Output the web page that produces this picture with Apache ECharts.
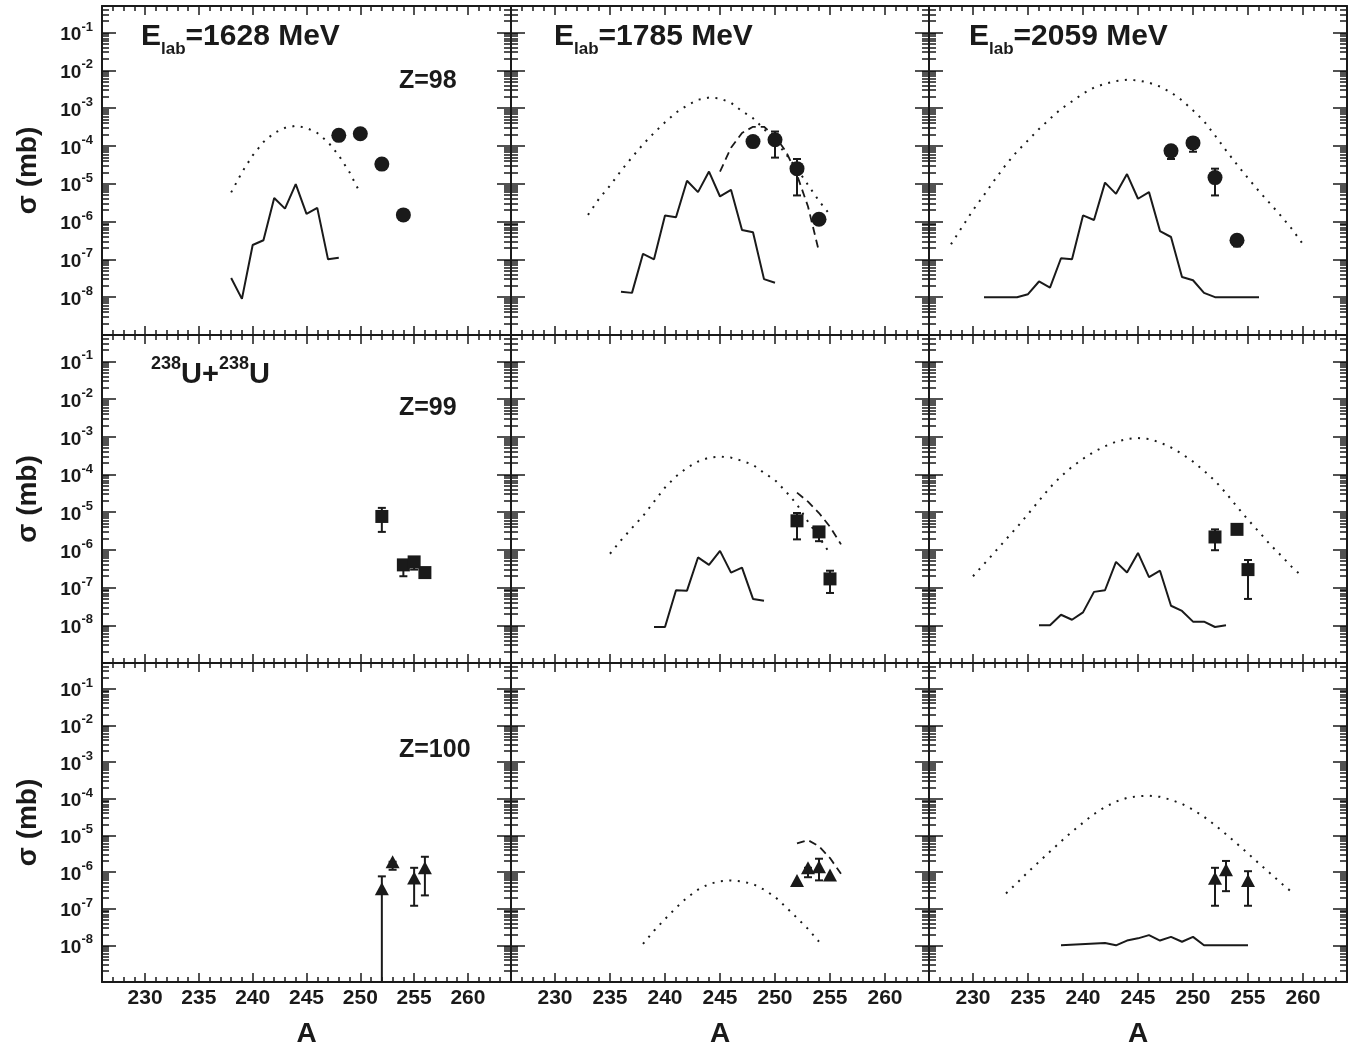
<!DOCTYPE html>
<html><head><meta charset="utf-8">
<script src="https://cdn.jsdelivr.net/npm/echarts@6/dist/echarts.min.js"></script>
<style>html,body{margin:0;padding:0;background:#fff}#c{width:1354px;height:1049px}</style>
</head><body><div id="c"></div>
<script>
// ---------- tick labels / categories ----------
const massTicks = [230, 235, 240, 245, 250, 255, 260];
const sigmaDecades = [1e-8, 1e-7, 1e-6, 1e-5, 1e-4, 1e-3, 1e-2, 1e-1];
const energies = ['1628', '1785', '2059'];
const elements = ['Z=98', 'Z=99', 'Z=100'];
const reactionLabel = ['238', 'U+', '238', 'U'];

// ---------- Z = 98 ----------
const z98_1628_solid = [[238,3.2e-8],[239,9e-9],[240,2.4e-7],[241,3.2e-7],[242,4.2e-6],[243,2.2e-6],[244,9.8e-6],[245,1.6e-6],[246,2.3e-6],[247,1.0e-7],[248,1.1e-7]];
const z98_1628_dotted = [[238,5.9e-6],[239,2.0e-5],[240,5.6e-5],[241,1.26e-4],[242,2.2e-4],[243,3.0e-4],[244,3.4e-4],[245,3.0e-4],[246,2.2e-4],[247,1.26e-4],[248,5.6e-5],[249,2.0e-5],[250,5.6e-6]];
const z98_1628_points = [[248,1.9e-4],[250,2.1e-4],[252,3.3e-5],[254,1.5e-6]];
const z98_1628_errors = [[254,1.1e-6,1.5e-6]];

const z98_1785_solid = [[236,1.4e-8],[237,1.3e-8],[238,1.4e-7],[239,1.0e-7],[240,1.45e-6],[241,1.3e-6],[242,1.2e-5],[243,6e-6],[244,2.1e-5],[245,4.6e-6],[246,6.9e-6],[247,6e-7],[248,5.2e-7],[249,3e-8],[250,2.4e-8]];
const z98_1785_dotted = [[233,1.5e-6],[234,4e-6],[235,8.9e-6],[236,2.2e-5],[237,5e-5],[238,1.1e-4],[239,2.2e-4],[240,4.2e-4],[241,7.6e-4],[242,1.17e-3],[243,1.66e-3],[244,1.9e-3],[245,1.8e-3],[246,1.38e-3],[247,8.3e-4],[248,5.4e-4],[249,2.8e-4],[250,1.4e-4],[251,6e-5],[252,2.5e-5],[253,9.3e-6],[254,3.5e-6],[255,1.5e-6]];
const z98_1785_dashed = [[245,2.1e-5],[246,8.9e-5],[247,2.2e-4],[248,3.2e-4],[249,3.2e-4],[250,1.8e-4],[251,7.1e-5],[252,1.7e-5],[253,2.5e-6],[254,1.6e-7]];
const z98_1785_points = [[248,1.3e-4],[250,1.45e-4],[252,2.5e-5],[254,1.15e-6]];
const z98_1785_errors = [[250,4.9e-5,2.4e-4],[252,4.9e-6,4.5e-5]];

const z98_2059_solid = [[231,1e-8],[232,1e-8],[233,1e-8],[234,1e-8],[235,1.2e-8],[236,2.6e-8],[237,1.8e-8],[238,1.07e-7],[239,1.0e-7],[240,1.45e-6],[241,1.1e-6],[242,1.07e-5],[243,5.4e-6],[244,1.8e-5],[245,4e-6],[246,6e-6],[247,5.6e-7],[248,3.9e-7],[249,3.4e-8],[250,2.8e-8],[251,1.3e-8],[252,1e-8],[253,1e-8],[254,1e-8],[255,1e-8],[256,1e-8]];
const z98_2059_dotted = [[228,2.5e-7],[229,7.1e-7],[230,2.0e-6],[231,5.0e-6],[232,1.3e-5],[233,3.2e-5],[234,7.1e-5],[235,1.4e-4],[236,2.8e-4],[237,5.2e-4],[238,9.5e-4],[239,1.5e-3],[240,2.4e-3],[241,3.5e-3],[242,4.4e-3],[243,5.2e-3],[244,5.6e-3],[245,5.4e-3],[246,4.7e-3],[247,3.7e-3],[248,2.6e-3],[249,1.6e-3],[250,8.7e-4],[251,4.5e-4],[252,1.9e-4],[253,7.6e-5],[254,3.2e-5],[255,1.4e-5],[256,6.3e-6],[257,3.0e-6],[258,1.4e-6],[259,6.3e-7],[260,2.5e-7]];
const z98_2059_points = [[248,7.4e-5],[250,1.2e-4],[252,1.45e-5],[254,3.2e-7]];
const z98_2059_errors = [[248,4.5e-5,7.4e-5],[250,7e-5,1.2e-4],[252,4.9e-6,2.5e-5],[254,2.2e-7,3.2e-7]];

// ---------- Z = 99 ----------
const z99_1628_points = [[252,7.7e-6],[254,4e-7],[255,4.8e-7],[256,2.5e-7]];
const z99_1628_errors = [[252,3e-6,1.3e-5],[254,2e-7,4e-7],[255,3e-7,4.8e-7]];

const z99_1785_solid = [[239,9e-9],[240,9e-9],[241,8.5e-8],[242,8.3e-8],[243,6.3e-7],[244,4e-7],[245,9.4e-7],[246,2.5e-7],[247,3.4e-7],[248,5e-8],[249,4.5e-8]];
const z99_1785_dotted = [[235,7.9e-7],[236,1.8e-6],[237,3.8e-6],[238,7.9e-6],[239,1.9e-5],[240,4.5e-5],[241,8.9e-5],[242,1.5e-4],[243,2.2e-4],[244,2.8e-4],[245,3.0e-4],[246,2.8e-4],[247,2.3e-4],[248,1.8e-4],[249,1.1e-4],[250,7.1e-5],[251,3.5e-5],[252,1.6e-5],[253,5.6e-6],[254,2.2e-6],[255,7.9e-7]];
const z99_1785_dashed = [[252,3.3e-5],[253,1.9e-5],[254,9.5e-6],[255,4.1e-6],[256,1.4e-6]];
const z99_1785_points = [[252,5.9e-6],[254,3e-6],[255,1.7e-7]];
const z99_1785_errors = [[252,1.9e-6,9.5e-6],[254,1.7e-6,3e-6],[255,7.2e-8,2.8e-7]];

const z99_2059_solid = [[236,1e-8],[237,1e-8],[238,1.9e-8],[239,1.4e-8],[240,2.2e-8],[241,7.7e-8],[242,8.5e-8],[243,4.8e-7],[244,2.5e-7],[245,8.3e-7],[246,1.9e-7],[247,2.8e-7],[248,3.3e-8],[249,2.4e-8],[250,1.25e-8],[251,1.25e-8],[252,9e-9],[253,1e-8]];
const z99_2059_dotted = [[230,2.0e-7],[231,4.2e-7],[232,8.9e-7],[233,1.9e-6],[234,4.0e-6],[235,8.9e-6],[236,2.0e-5],[237,4.5e-5],[238,8.9e-5],[239,1.6e-4],[240,2.6e-4],[241,4.0e-4],[242,5.6e-4],[243,7.4e-4],[244,8.7e-4],[245,9.3e-4],[246,8.7e-4],[247,7.1e-4],[248,5.2e-4],[249,3.5e-4],[250,2.2e-4],[251,1.26e-4],[252,6.8e-5],[253,3.2e-5],[254,1.4e-5],[255,6.3e-6],[256,3.0e-6],[257,1.4e-6],[258,7.1e-7],[259,3.5e-7],[260,1.9e-7]];
const z99_2059_points = [[252,2.2e-6],[254,3.5e-6],[255,3e-7]];
const z99_2059_errors = [[252,9.8e-7,3.5e-6],[255,5e-8,5.4e-7]];

// ---------- Z = 100 ----------
const z100_1628_points = [[252,3.5e-7],[253,1.9e-6],[255,6.9e-7],[256,1.3e-6]];
const z100_1628_errors = [[252,1e-9,7.6e-7],[253,1.15e-6,1.9e-6],[255,1.2e-7,1.3e-6],[256,2.3e-7,2.6e-6]];

const z100_1785_dotted = [[238,1.1e-8],[239,2.5e-8],[240,5.2e-8],[241,1.05e-7],[242,2.0e-7],[243,3.3e-7],[244,4.7e-7],[245,5.6e-7],[246,5.9e-7],[247,5.5e-7],[248,4.7e-7],[249,3.3e-7],[250,2.1e-7],[251,1.1e-7],[252,5.6e-8],[253,2.8e-8],[254,1.26e-8]];
const z100_1785_dashed = [[252,6e-6],[253,7.4e-6],[254,5e-6],[255,2.4e-6],[256,8.9e-7]];
const z100_1785_points = [[252,5.9e-7],[253,1.3e-6],[254,1.4e-6],[255,8.3e-7]];
const z100_1785_errors = [[253,7.2e-7,1.3e-6],[254,5.9e-7,2.3e-6]];

const z100_2059_solid = [[238,1e-8],[242,1.15e-8],[243,1e-8],[244,1.35e-8],[245,1.55e-8],[246,1.9e-8],[247,1.35e-8],[248,1.7e-8],[249,1.25e-8],[250,1.7e-8],[251,1e-8],[255,1e-8]];
const z100_2059_dotted = [[233,2.6e-7],[234,5.0e-7],[235,1.0e-6],[236,1.9e-6],[237,3.6e-6],[238,6.8e-6],[239,1.26e-5],[240,2.2e-5],[241,3.8e-5],[242,5.9e-5],[243,8.3e-5],[244,1.05e-4],[245,1.17e-4],[246,1.2e-4],[247,1.12e-4],[248,9.3e-5],[249,7.2e-5],[250,5.0e-5],[251,3.2e-5],[252,1.9e-5],[253,1.07e-5],[254,5.9e-6],[255,3.2e-6],[256,1.7e-6],[257,9.3e-7],[258,5.0e-7],[259,2.8e-7]];
const z100_2059_points = [[252,6.7e-7],[253,1.15e-6],[255,5.9e-7]];
const z100_2059_errors = [[252,1.2e-7,1.3e-6],[253,3e-7,2e-6],[255,1.2e-7,1.05e-6]];

// ---------- panel assembly (row = Z, col = energy) ----------
const panels = [
  [{solid:z98_1628_solid, dotted:z98_1628_dotted, points:z98_1628_points, errors:z98_1628_errors},
   {solid:z98_1785_solid, dotted:z98_1785_dotted, dashed:z98_1785_dashed, points:z98_1785_points, errors:z98_1785_errors},
   {solid:z98_2059_solid, dotted:z98_2059_dotted, points:z98_2059_points, errors:z98_2059_errors}],
  [{points:z99_1628_points, errors:z99_1628_errors},
   {solid:z99_1785_solid, dotted:z99_1785_dotted, dashed:z99_1785_dashed, points:z99_1785_points, errors:z99_1785_errors},
   {solid:z99_2059_solid, dotted:z99_2059_dotted, points:z99_2059_points, errors:z99_2059_errors}],
  [{points:z100_1628_points, errors:z100_1628_errors},
   {dotted:z100_1785_dotted, dashed:z100_1785_dashed, points:z100_1785_points, errors:z100_1785_errors},
   {solid:z100_2059_solid, dotted:z100_2059_dotted, points:z100_2059_points, errors:z100_2059_errors}]
];
const rowSymbols = ['circle', 'rect', 'triangle'];
const rowSymbolSize = [15, 13, [14, 13]];

// ---------- layout / style ----------
const FONT = "'Liberation Sans', Arial, Helvetica, sans-serif";
const INK = '#1a1a1a';
const colLeft = [102, 511, 929], colWidth = [409, 418, 418];
const rowTop = [6, 335, 663], rowHeight = [329, 328, 324];
const A_MIN = 226, A_MAX = 264, S_MIN = 1e-9, S_MAX = 0.5;

const minorMass = [];
for (let a = A_MIN + 1; a < A_MAX; a++) if (a % 5 !== 0) minorMass.push(a);
const minorSigma = [];
for (let n = -9; n <= -1; n++) for (let k = 2; k <= 9; k++) { const v = k * Math.pow(10, n); if (v <= S_MAX) minorSigma.push(v); }

const grids = [], xAxes = [], yAxes = [], series = [];

function xAxis(g, pos, major, label, name) {
  return {
    type: 'value', gridIndex: g, position: pos, min: A_MIN, max: A_MAX,
    axisLine: {show: major, onZero: false, lineStyle: {color: INK, width: 2}},
    axisTick: {show: true, inside: true, length: major ? 9 : 5, customValues: major ? massTicks : minorMass, lineStyle: {color: INK, width: 1.5}},
    axisLabel: {show: label, customValues: massTicks, margin: 6, color: INK, fontFamily: FONT, fontWeight: 'bold', fontSize: 21},
    splitLine: {show: false},
    name: name ? 'A' : '', nameLocation: 'middle', nameGap: 38,
    nameTextStyle: {color: INK, fontFamily: FONT, fontWeight: 'bold', fontSize: 28}
  };
}
function yAxis(g, pos, major, label, name) {
  return {
    type: 'log', logBase: 10, gridIndex: g, position: pos, min: S_MIN, max: S_MAX,
    axisLine: {show: major, onZero: false, lineStyle: {color: INK, width: 2}},
    axisTick: {show: true, inside: true, length: major ? 14 : 7, customValues: major ? sigmaDecades : minorSigma, lineStyle: {color: INK, width: 1.5}},
    axisLabel: {show: label, customValues: sigmaDecades, margin: 9, color: INK,
      formatter: v => '{b|10}{s|' + Math.round(Math.log10(v)) + '}',
      rich: {
        b: {fontFamily: FONT, fontWeight: 'bold', fontSize: 19, lineHeight: 24, verticalAlign: 'bottom', color: INK},
        s: {fontFamily: FONT, fontWeight: 'bold', fontSize: 13, lineHeight: 13, verticalAlign: 'top', color: INK}
      }},
    splitLine: {show: false},
    name: name ? 'σ (mb)' : '', nameLocation: 'middle', nameRotate: 90, nameGap: 60,
    nameTextStyle: {color: INK, fontFamily: FONT, fontWeight: 'bold', fontSize: 28}
  };
}

function errorItem(params, api) {
  const x = api.value(0);
  const lo = api.coord([x, api.value(1)]);
  const hi = api.coord([x, api.value(2)]);
  const cap = 4, st = {stroke: INK, lineWidth: 2};
  return {type: 'group', children: [
    {type: 'line', shape: {x1: lo[0], y1: lo[1], x2: hi[0], y2: hi[1]}, style: st},
    {type: 'line', shape: {x1: lo[0] - cap, y1: lo[1], x2: lo[0] + cap, y2: lo[1]}, style: st},
    {type: 'line', shape: {x1: hi[0] - cap, y1: hi[1], x2: hi[0] + cap, y2: hi[1]}, style: st}
  ]};
}

for (let r = 0; r < 3; r++) {
  for (let c = 0; c < 3; c++) {
    const g = r * 3 + c;
    grids.push({left: colLeft[c], top: rowTop[r], width: colWidth[c], height: rowHeight[r], containLabel: false});
    xAxes.push(xAxis(g, 'bottom', true, r === 2, r === 2));
    xAxes.push(xAxis(g, 'bottom', false, false, false));
    xAxes.push(xAxis(g, 'top', true, false, false));
    xAxes.push(xAxis(g, 'top', false, false, false));
    yAxes.push(yAxis(g, 'left', true, c === 0, c === 0));
    yAxes.push(yAxis(g, 'left', false, false, false));
    yAxes.push(yAxis(g, 'right', true, false, false));
    yAxes.push(yAxis(g, 'right', false, false, false));
    const ax = {xAxisIndex: g * 4, yAxisIndex: g * 4};
    const p = panels[r][c];
    if (p.dotted) series.push(Object.assign({type: 'line', data: p.dotted, symbol: 'none', silent: true,
      lineStyle: {color: INK, width: 2, type: [2, 6.5], cap: 'butt'}, z: 3}, ax));
    if (p.dashed) series.push(Object.assign({type: 'line', data: p.dashed, symbol: 'none', silent: true,
      lineStyle: {color: INK, width: 1.8, type: [8, 5]}, z: 3}, ax));
    if (p.solid) series.push(Object.assign({type: 'line', data: p.solid, symbol: 'none', silent: true,
      lineStyle: {color: INK, width: 2}, z: 3}, ax));
    if (p.errors) series.push(Object.assign({type: 'custom', data: p.errors, renderItem: errorItem,
      encode: {x: 0, y: [1, 2]}, z: 4, silent: true}, ax));
    if (p.points) series.push(Object.assign({type: 'scatter', data: p.points, symbol: rowSymbols[r],
      symbolSize: rowSymbolSize[r], itemStyle: {color: INK, opacity: 1}, z: 5, silent: true}, ax));
  }
}

// ---------- texts ----------
const titleX = [141, 554, 969];
const graphics = [];
energies.forEach((e, c) => graphics.push({
  type: 'text', left: titleX[c], top: 22, silent: true,
  style: {
    text: '{m|E}{s|lab}{m|=' + e + ' MeV}',
    rich: {
      m: {fontFamily: FONT, fontWeight: 'bold', fontSize: 30, lineHeight: 32, verticalAlign: 'top', fill: INK},
      s: {fontFamily: FONT, fontWeight: 'bold', fontSize: 17, lineHeight: 17, padding: [19, 0, 0, 0], verticalAlign: 'top', fill: INK}
    }
  }
}));
const zLabelY = [83, 410, 752];
elements.forEach((z, r) => graphics.push({
  type: 'text', left: 399, top: zLabelY[r] - 14, silent: true,
  style: {text: z, fill: INK, font: 'bold 25px ' + FONT}
}));
graphics.push({
  type: 'text', left: 151, top: 355, silent: true,
  style: {
    text: '{p|' + reactionLabel[0] + '}{u|' + reactionLabel[1] + '}{p|' + reactionLabel[2] + '}{u|' + reactionLabel[3] + '}',
    rich: {
      u: {fontFamily: FONT, fontWeight: 'bold', fontSize: 29, lineHeight: 34, verticalAlign: 'bottom', fill: INK},
      p: {fontFamily: FONT, fontWeight: 'bold', fontSize: 18, lineHeight: 18, verticalAlign: 'top', fill: INK}
    }
  }
});

const chart = echarts.init(document.getElementById('c'), null, {renderer: 'canvas'});
chart.setOption({
  backgroundColor: '#ffffff',
  animation: false,
  grid: grids, xAxis: xAxes, yAxis: yAxes, series: series, graphic: graphics
});
</script>
</body></html>
